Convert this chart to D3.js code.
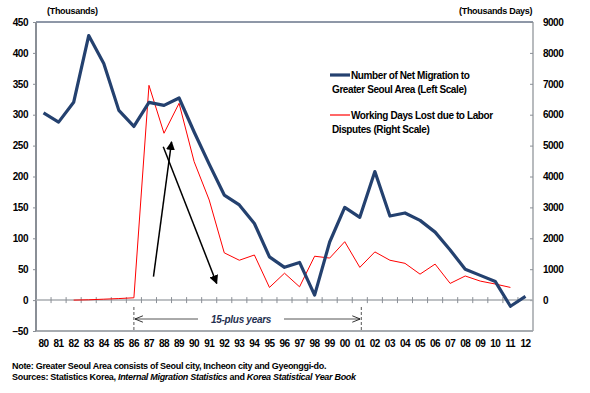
<!DOCTYPE html>
<html><head><meta charset="utf-8">
<script src="https://cdn.jsdelivr.net/npm/d3@7"></script>
<style>
body{margin:0;background:#fff;}
text{font-family:"Liberation Sans",Arial,sans-serif;}
</style></head>
<body><svg id="c" width="590" height="393"></svg>
<script>
const years = ["80","81","82","83","84","85","86","87","88","89","90","91","92","93","94","95","96","97","98","99","00","01","02","03","04","05","06","07","08","09","10","11","12"];
const migration = [303,288,320,428,383,307,281,320,315,327,272,220,170,154,124,70,53,61,8,94,150,134,208,136,141,129,110,81,50,40,30,-10,6];
const workDays = [null,null,0,10,30,50,75,6950,5400,6370,4480,3240,1530,1290,1460,410,870,430,1420,1360,1890,1060,1560,1290,1190,840,1165,540,780,615,520,410,null];
const leftTicks = [-50,0,50,100,150,200,250,300,350,400,450];
const rightTicks = [0,1000,2000,3000,4000,5000,6000,7000,8000,9000];
const legendLabels = [["Number of Net Migration to","Greater Seoul Area (Left Scale)"],["Working Days Lost due to Labor","Disputes (Right Scale)"]];
const periodLabel = "15-plus years";
const periodStart = "86", periodEnd = "01";

const svg = d3.select("#c");
const L = 36, R = 533, T = 22, B = 331;
const x = d3.scaleBand().domain(years).range([L, R]);
const xc = d => x(d) + x.bandwidth()/2;
const yL = d3.scaleLinear().domain([-50,450]).range([B, T]);
const yR = d3.scaleLinear().domain([-1000,9000]).range([B, T]);
const navy = "#24416f", red = "#ff0000";

// frame
svg.append("line").attr("x1",L).attr("x2",R).attr("y1",T).attr("y2",T).attr("stroke","#1f3050").attr("stroke-width",1);
svg.append("line").attr("x1",L).attr("x2",R).attr("y1",B).attr("y2",B).attr("stroke","#8a8f96").attr("stroke-width",1.5);
svg.append("line").attr("x1",L).attr("x2",L).attr("y1",T).attr("y2",B).attr("stroke","#8a8f96").attr("stroke-width",2);
svg.append("line").attr("x1",R).attr("x2",R).attr("y1",T).attr("y2",B).attr("stroke","#a0a4a8").attr("stroke-width",1.5);

// left axis
const la = svg.append("g").attr("transform",`translate(${L},0)`)
  .call(d3.axisLeft(yL).tickValues(leftTicks).tickSize(3).tickPadding(5));
la.select(".domain").remove();
la.selectAll("line").attr("stroke","#8a8f96");
la.selectAll("text").attr("font-size",10).attr("font-weight","bold").attr("fill","#000").attr("letter-spacing",-0.5);
// right axis
const ra = svg.append("g").attr("transform",`translate(${R},0)`)
  .call(d3.axisRight(yR).tickValues(rightTicks).tickFormat(d3.format("d")).tickSize(0).tickPadding(10));
ra.select(".domain").remove();
ra.selectAll(".tick").append("line").attr("x1",-3).attr("x2",0).attr("stroke","#8a8f96");
ra.selectAll("text").attr("font-size",10).attr("font-weight","bold").attr("fill","#000").attr("letter-spacing",-0.5);

// zero line with ticks at band boundaries
svg.append("line").attr("x1",L).attr("x2",R).attr("y1",yL(0)).attr("y2",yL(0)).attr("stroke","#a8acb0").attr("stroke-width",1.5);
svg.append("g").selectAll("line").data(years.slice(1)).join("line")
  .attr("x1",d=>x(d)).attr("x2",d=>x(d)).attr("y1",yL(0)-3).attr("y2",yL(0)+3).attr("stroke","#8a8f96");

// x labels
svg.append("g").selectAll("text").data(years).join("text")
  .attr("x",xc).attr("y",347).attr("text-anchor","middle").attr("letter-spacing",-0.5)
  .attr("font-size",10).attr("font-weight","bold").text(d=>d);

// axis titles
svg.append("text").attr("x",47).attr("y",14).attr("font-size",9).attr("font-weight","bold").attr("letter-spacing",-0.3).text("(Thousands)");
svg.append("text").attr("x",459).attr("y",14).attr("font-size",9).attr("font-weight","bold").attr("letter-spacing",-0.3).text("(Thousands Days)");

// lines
const redLine = d3.line().defined(d=>d[1]!=null).x(d=>xc(d[0])).y(d=>yR(d[1]));
svg.append("path").datum(years.map((y,i)=>[y,workDays[i]])).attr("d",redLine)
  .attr("fill","none").attr("stroke",red).attr("stroke-width",1);
const blueLine = d3.line().x(d=>xc(d[0])).y(d=>yL(d[1]));
svg.append("path").datum(years.map((y,i)=>[y,migration[i]])).attr("d",blueLine)
  .attr("fill","none").attr("stroke",navy).attr("stroke-width",3.2).attr("stroke-linejoin","round");

// arrows annotation (positions in data coordinates)
const xi = d3.scaleLinear().domain([0, years.length-1]).range([xc(years[0]), xc(years[years.length-1])]);
const defs = svg.append("defs");
defs.append("marker").attr("id","ah").attr("viewBox","0 0 10 10").attr("refX",9).attr("refY",5)
  .attr("markerWidth",6).attr("markerHeight",6).attr("orient","auto")
  .append("path").attr("d","M0,0 L10,5 L0,10 z").attr("fill","#000");
defs.append("marker").attr("id","ao").attr("viewBox","0 0 10 10").attr("refX",10).attr("refY",5)
  .attr("markerWidth",8).attr("markerHeight",8).attr("orient","auto-start-reverse")
  .append("path").attr("d","M0,1 L10,5 L0,9").attr("fill","none").attr("stroke","#000").attr("stroke-width",1);
const arrows = [[7.3,38,8.5,256],[7.95,248,11.5,27]];
svg.append("g").selectAll("line").data(arrows).join("line")
  .attr("x1",d=>xi(d[0])).attr("y1",d=>yL(d[1])).attr("x2",d=>xi(d[2])).attr("y2",d=>yL(d[3]))
  .attr("stroke","#000").attr("stroke-width",1.5).attr("marker-end","url(#ah)");

// period annotation
const ps = xc(periodStart), pe = xc(periodEnd)+1.5;
[ps,pe].forEach(px=>svg.append("line").attr("x1",px).attr("x2",px).attr("y1",307).attr("y2",330)
  .attr("stroke","#555").attr("stroke-dasharray","3,2").attr("stroke-width",1));
const py = 319;
svg.append("line").attr("x1",ps+1).attr("x2",198).attr("y1",py).attr("y2",py).attr("stroke","#555").attr("stroke-width",1).attr("marker-start","url(#ao)");
svg.append("line").attr("x1",284).attr("x2",pe-1).attr("y1",py).attr("y2",py).attr("stroke","#555").attr("stroke-width",1).attr("marker-end","url(#ao)");
svg.append("text").attr("x",241).attr("y",py+3.5).attr("text-anchor","middle").attr("font-size",10)
  .attr("font-weight","bold").attr("font-style","italic").attr("fill","#1f3050").attr("letter-spacing",-0.3).text(periodLabel);

// legend
const lg = svg.append("g");
const legendCols = [navy, red], legendW = [3.2, 1.2], legendY = [75, 115];
legendLabels.forEach((lab,i)=>{
  lg.append("line").attr("x1",330).attr("x2",350).attr("y1",legendY[i]).attr("y2",legendY[i])
    .attr("stroke",legendCols[i]).attr("stroke-width",legendW[i]);
  lg.append("text").attr("x",351).attr("y",legendY[i]+3.5).attr("font-size",10).attr("font-weight","bold").attr("letter-spacing",-0.4).text(lab[0]);
  lg.append("text").attr("x",332).attr("y",legendY[i]+18).attr("font-size",10).attr("font-weight","bold").attr("letter-spacing",-0.4).text(lab[1]);
});

// footnotes
svg.append("text").attr("x",12).attr("y",369).attr("font-size",9).attr("font-weight","bold").attr("letter-spacing",-0.3)
  .text("Note: Greater Seoul Area consists of Seoul city, Incheon city and Gyeonggi-do.");
const s = svg.append("text").attr("x",12).attr("y",380).attr("font-size",9).attr("font-weight","bold").attr("letter-spacing",-0.3);
s.append("tspan").text("Sources: Statistics Korea, ");
s.append("tspan").attr("font-style","italic").text("Internal Migration Statistics");
s.append("tspan").text(" and ");
s.append("tspan").attr("font-style","italic").text("Korea Statistical Year Book");
</script></body></html>
